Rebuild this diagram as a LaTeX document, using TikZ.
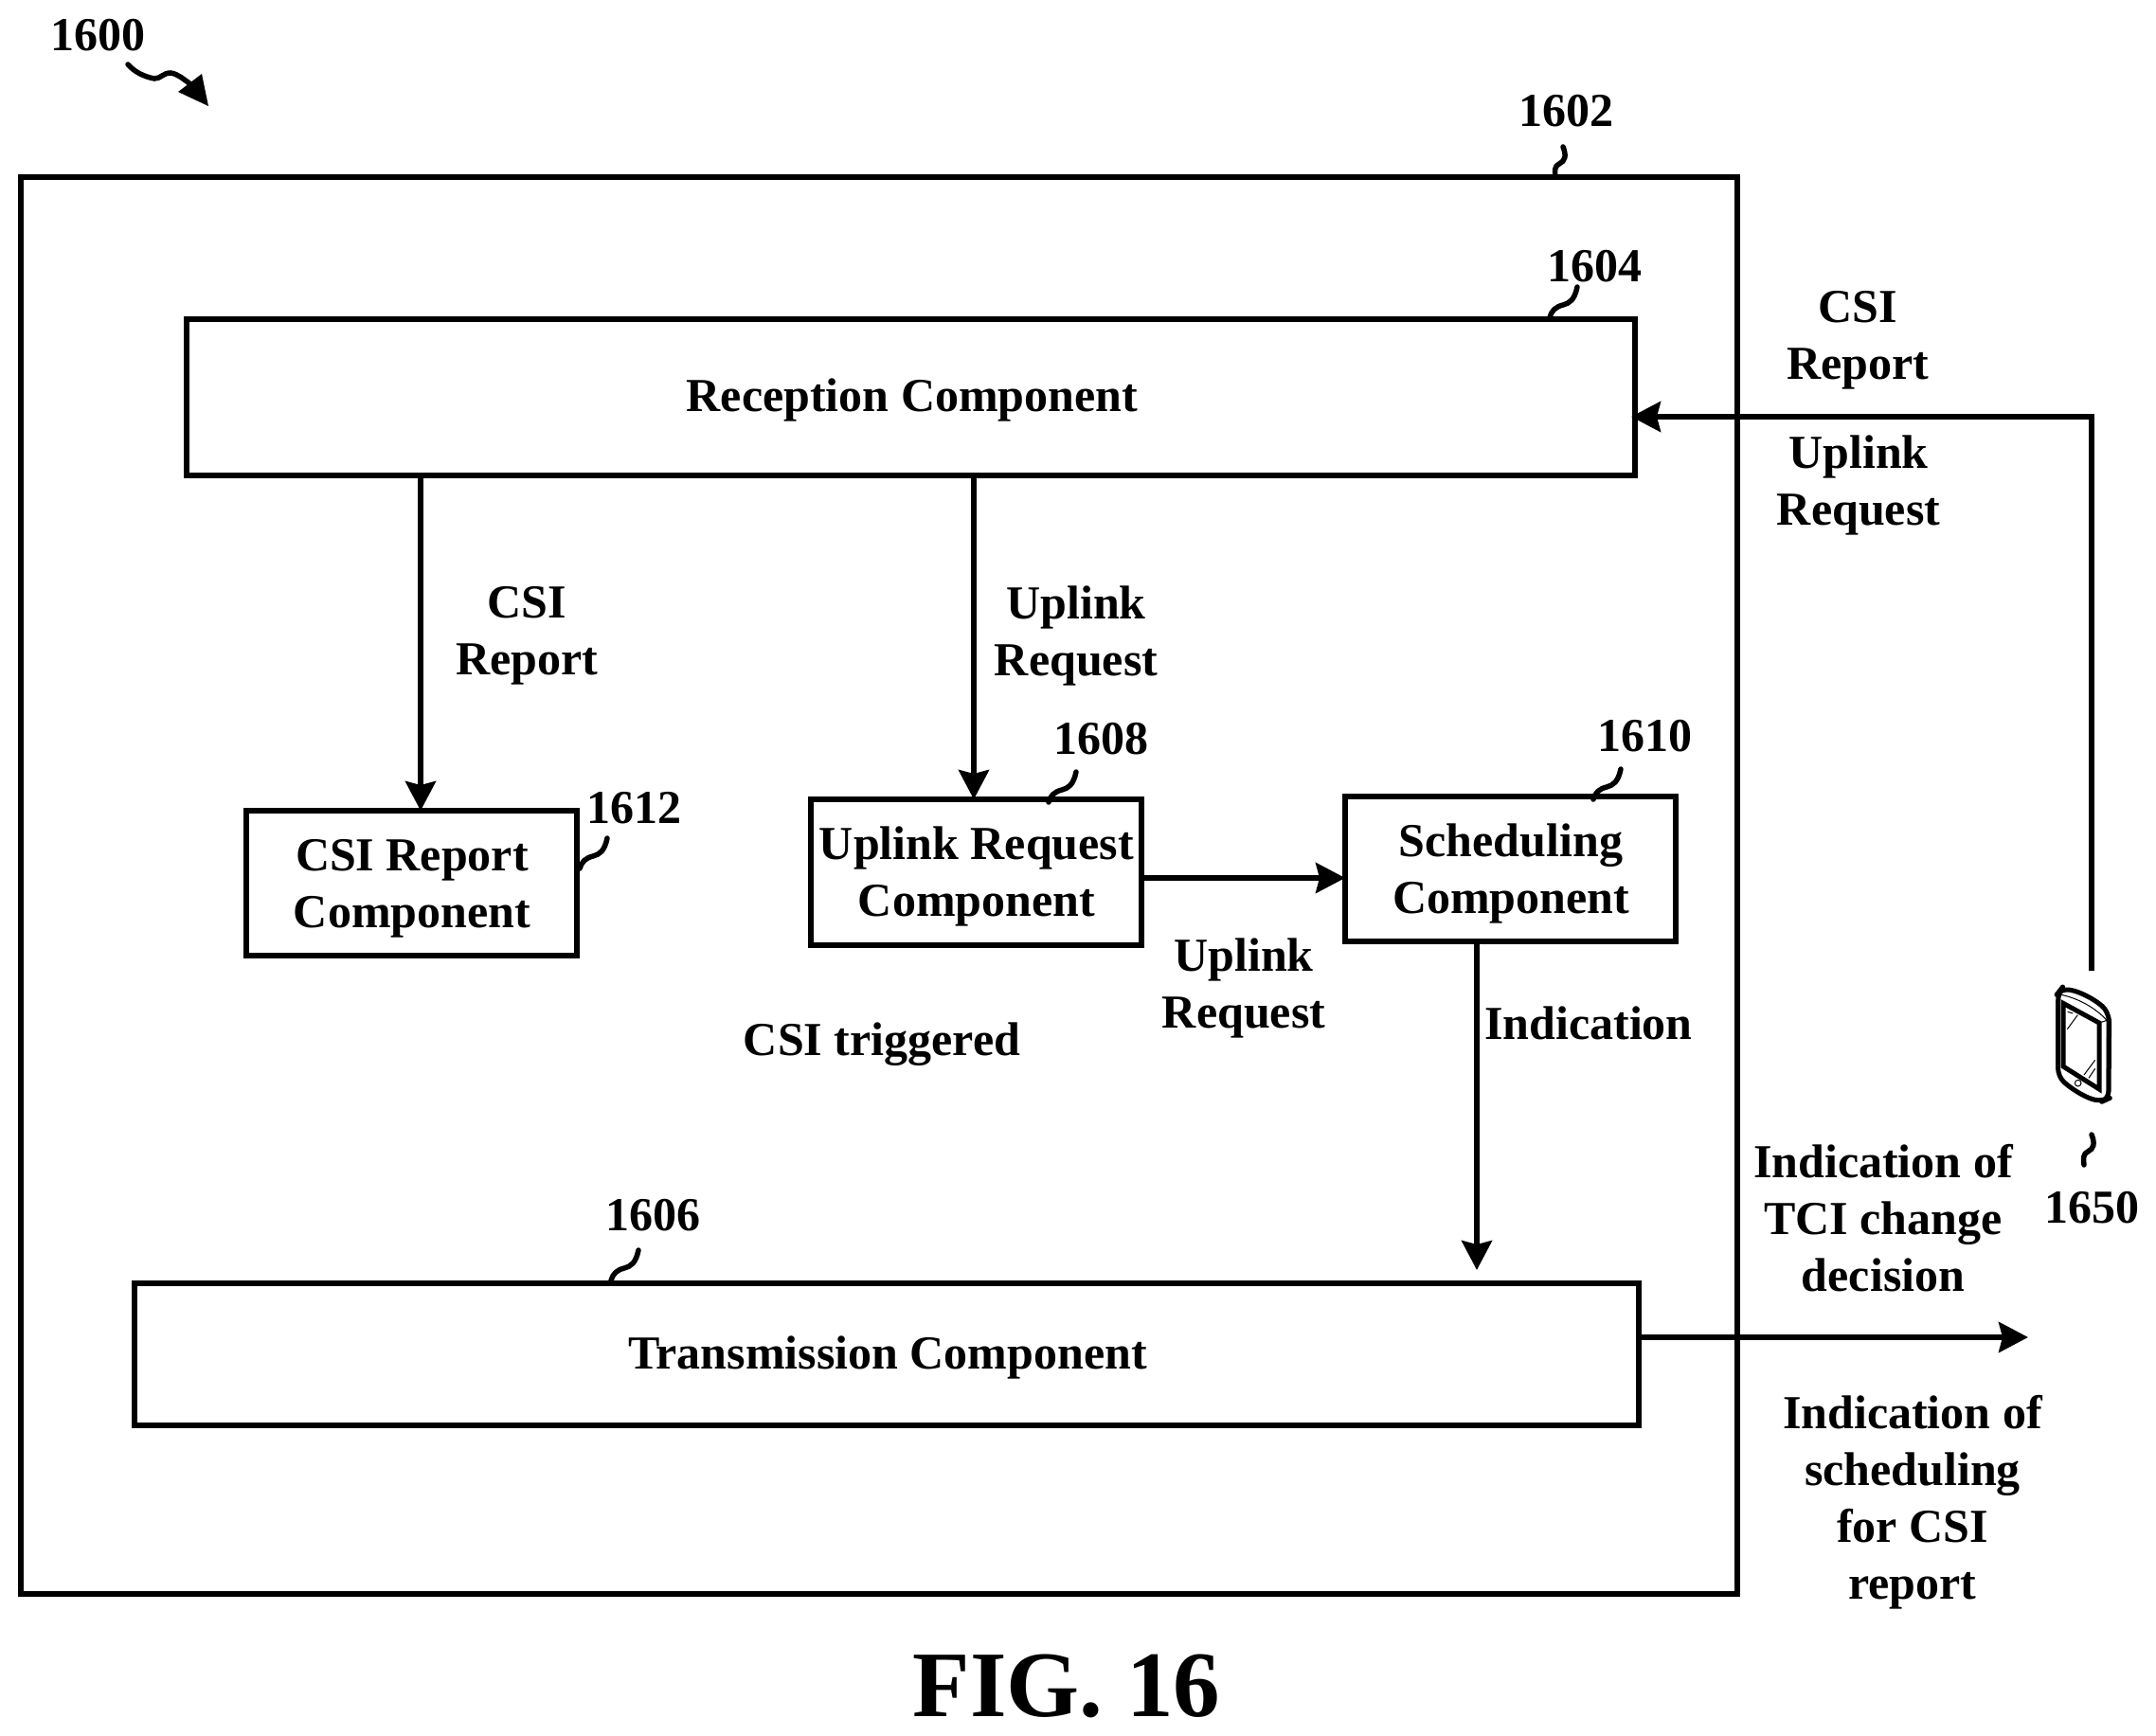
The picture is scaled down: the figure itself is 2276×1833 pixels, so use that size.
\documentclass[tikz,border=0pt]{standalone}
\usepackage{fontspec}
\setmainfont{Liberation Serif}[BoldFont={Liberation Serif Bold}]
\usetikzlibrary{arrows.meta}
\tikzset{
  x=1pt,y=-1pt,
  lbl/.style={font=\fontsize{50}{60}\selectfont\bfseries,align=center,inner sep=0pt,text=black},
  box/.style={draw=black,line width=5.5pt,inner sep=0pt,outer sep=0pt,fill=none},
  conn/.style={draw=black,line width=5.5pt,-{Stealth[length=31pt,width=32pt,inset=4pt]}},
  squig/.style={draw=black,line width=5.5pt,line cap=round}
}
\newcommand{\boxat}[5]{\node[box,anchor=north west,minimum width=#4pt-#2pt,minimum height=#5pt-#3pt] (#1) at (#2,#3) {};}
\newcommand{\sqa}[2]{\begin{scope}[shift={(#1,#2)}]\draw[squig] (0,0) .. controls (-3,14) and (-8,17) .. (-15,19) .. controls (-23,21) and (-27,25) .. (-29,32);\end{scope}}
\newcommand{\sqb}[2]{\begin{scope}[shift={(#1,#2)}]\draw[squig] (0,0) .. controls (4,10) and (2,15) .. (-4,18) .. controls (-9,20) and (-9,26) .. (-8,32);\end{scope}}
\begin{document}
\begin{tikzpicture}
\useasboundingbox (0,0) rectangle (2276,1833);
\boxat{outer}{22}{187}{1834}{1683}
\boxat{recep}{197}{337}{1726}{502}
\boxat{csib}{260}{856}{609}{1009}
\boxat{ulb}{856}{844}{1205}{998}
\boxat{schb}{1420}{841}{1769}{994}
\boxat{trans}{142}{1355}{1730}{1505}
\node[lbl] (t1) at (963,422) {Reception Component};
\node[lbl] (t2) at (435,938) {CSI Report\\Component};
\node[lbl] (t3) at (1031,925) {Uplink Request\\Component};
\node[lbl] (t4) at (1595,922) {Scheduling\\Component};
\node[lbl] (t5) at (937,1433) {Transmission Component};
\node[lbl] (l1) at (556,671) {CSI\\Report};
\node[lbl] (l2) at (1136,671) {Uplink\\Request};
\node[lbl] (l3) at (1313,1043) {Uplink\\Request};
\node[lbl] (l4) at (931,1103) {CSI triggered};
\node[lbl] (l5) at (1677,1080) {Indication};
\node[lbl] (l6) at (1961,359) {CSI\\Report};
\node[lbl] (l7) at (1962,512) {Uplink\\Request};
\node[lbl] (l8) at (1988,1286) {Indication of\\TCI change\\decision};
\node[lbl] (l9) at (2019,1586) {Indication of\\scheduling\\for CSI\\report};
\node[lbl] (n1600) at (103,37) {1600};
\node[lbl] (n1602) at (1653,117) {1602};
\node[lbl] (n1604) at (1683,281) {1604};
\node[lbl] (n1606) at (689,1283) {1606};
\node[lbl] (n1608) at (1162,780) {1608};
\node[lbl] (n1610) at (1736,777) {1610};
\node[lbl] (n1612) at (669,853) {1612};
\node[lbl] (n1650) at (2208,1275) {1650};
\node[lbl,font=\fontsize{99}{110}\selectfont\bfseries] (fig) at (1126,1780) {FIG. 16};
% connectors
\coordinate (a1) at (444,502);
\coordinate (a2) at (1028,502);
\coordinate (c1) at (2141,1412);
\coordinate (c2) at (2208,1025);
\coordinate (c3) at (2208,440);
\coordinate (c4) at (1559,1341);
\draw[conn] (a1) -- (a1 |- csib.north);
\draw[conn] (a2) -- (a2 |- ulb.north);
\draw[conn] (ulb.east |- 0,927) -- (schb.west |- 0,927);
\draw[conn] (c4 |- schb.south) -- (c4);
\draw[conn] (trans.east |- c1) -- (c1);
\draw[conn] (c2) -- (c3) -- ([xshift=-4pt]recep.east |- c3);
% squiggles
\draw[squig] (135,68) .. controls (142,76) and (152,81) .. (163,83) .. controls (170,83) and (172,77) .. (180,77) .. controls (188,78) and (194,84) .. (200,88);
\fill[black] (213,78) -- (220,112) -- (188,97) -- cycle;
\sqb{1650}{155}
\sqa{1665}{303}
\sqa{1136}{815}
\sqa{1711}{812}
\sqa{641}{885}
\sqa{674}{1320}
\sqb{2208}{1198}
% phone
\begin{scope}[shift={(2100,1000)},x=0.3333pt,y=-0.3333pt]
\draw[black,line width=5pt,line join=round,rounded corners=8pt]
 (218,145) -- (228,132) .. controls (290,140) and (350,175) .. (380,215) -- (378,480) -- (360,488) .. controls (310,480) and (260,450) .. (218,410) -- cycle;
\draw[black,line width=5pt,line join=miter] (234,178) -- (348,240) -- (348,450) -- (234,378) -- cycle;
\draw[black,line width=1pt] (222,150) .. controls (280,160) and (340,195) .. (372,232);
\draw[black,line width=1pt] (355,238) -- (372,232) -- (372,478);
\draw[black,line width=1pt] (248,205) -- (265,210) (247,260) -- (280,215);
\draw[black,line width=1pt] (300,405) -- (335,358) (315,415) -- (335,385);
\draw[black,line width=1pt] (281,431) circle (10);
\end{scope}
\end{tikzpicture}
\end{document}
